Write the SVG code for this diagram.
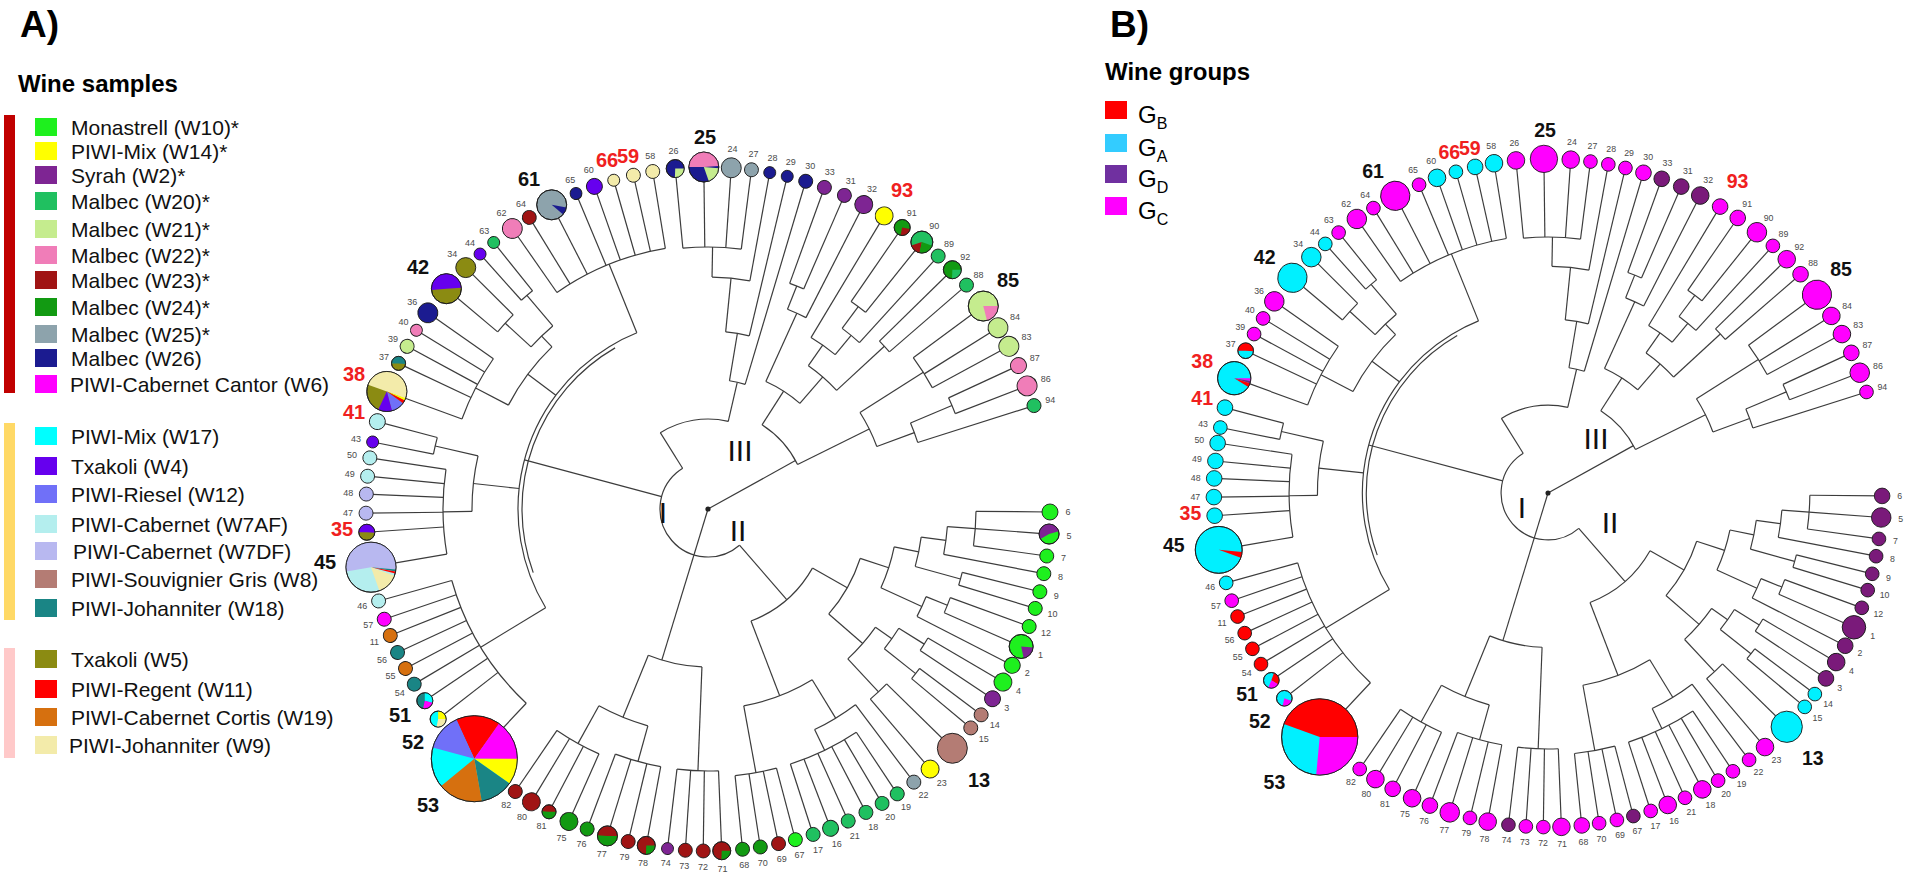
<svg xmlns="http://www.w3.org/2000/svg" width="1908" height="880" viewBox="0 0 1908 880">
<style>
text{font-family:"Liberation Sans",Arial,sans-serif}
.t line,.t circle{fill:none;stroke:#3c3c3c;stroke-width:1.2}
.lf circle{stroke:#1c1c1c;stroke-width:0.9}
.lf .s,.lf .ol{fill:none}
.n{font-size:9px;fill:#4a4a4a;text-anchor:middle;dominant-baseline:central}
.b{font-size:20px;font-weight:bold;text-anchor:middle;dominant-baseline:central;fill:#111}
.rd{fill:#f02020}
.lg{font-size:21px;fill:#111}
.hd{font-weight:bold;fill:#000}
.rn{font-size:30px;fill:#111;text-anchor:middle;dominant-baseline:central}
.w10{fill:#1ef01e}.w14{fill:#ffff00}.w2{fill:#7e2593}.w20{fill:#20c060}.w21{fill:#c5ec8e}.w22{fill:#f07db8}
.w23{fill:#a01414}.w24{fill:#129a12}.w25{fill:#8da3ac}.w26{fill:#1b1b90}.w6{fill:#ff00ff}.w17{fill:#00ffff}
.w4{fill:#6600ee}.w12{fill:#7070f8}.w7a{fill:#b4eeee}.w7d{fill:#b8b8f0}.w8{fill:#b47c74}.w18{fill:#1a8585}
.w5{fill:#8b8b12}.w11{fill:#ff0000}.w19{fill:#d6700f}.w9{fill:#f3ebaa}
.ga{fill:#00f0ff}.gb{fill:#ff0000}.gc{fill:#ff00ff}.gd{fill:#7a1a7a}
</style>
<defs>
<g id="tree" class="t">
<line x1="268" x2="342" transform="rotate(0.5)"/><line x1="268" x2="342" transform="rotate(4.2)"/><line x1="268" x2="342" transform="rotate(7.9)"/><line x1="240" x2="342" transform="rotate(10.9)"/><line x1="262" x2="342" transform="rotate(14)"/><line x1="262" x2="342" transform="rotate(16.9)"/><line x1="258" x2="342" transform="rotate(20.1)"/><line x1="258" x2="342" transform="rotate(23.7)"/><line x1="235" x2="342" transform="rotate(27.2)"/><line x1="255" x2="342" transform="rotate(30.4)"/><line x1="255" x2="342" transform="rotate(33.7)"/><line x1="265" x2="342" transform="rotate(37)"/><line x1="265" x2="342" transform="rotate(39.8)"/><line x1="250" x2="342" transform="rotate(44.4)"/><line x1="250" x2="342" transform="rotate(49.5)"/><line x1="245" x2="342" transform="rotate(53)"/><line x1="268" x2="342" transform="rotate(56.4)"/><line x1="268" x2="342" transform="rotate(59.4)"/><line x1="268" x2="342" transform="rotate(62.5)"/><line x1="268" x2="342" transform="rotate(65.8)"/><line x1="268" x2="342" transform="rotate(69)"/><line x1="268" x2="342" transform="rotate(72.1)"/><line x1="268" x2="342" transform="rotate(75.2)"/><line x1="268" x2="342" transform="rotate(78.1)"/><line x1="268" x2="342" transform="rotate(81.2)"/><line x1="268" x2="342" transform="rotate(84.2)"/><line x1="262" x2="342" transform="rotate(87.7)"/><line x1="262" x2="342" transform="rotate(90.8)"/><line x1="262" x2="342" transform="rotate(93.8)"/><line x1="262" x2="342" transform="rotate(96.8)"/><line x1="262" x2="342" transform="rotate(100.4)"/><line x1="262" x2="342" transform="rotate(103.5)"/><line x1="262" x2="342" transform="rotate(107.1)"/><line x1="262" x2="342" transform="rotate(110.7)"/><line x1="268" x2="342" transform="rotate(114)"/><line x1="268" x2="342" transform="rotate(117.7)"/><line x1="268" x2="342" transform="rotate(121.1)"/><line x1="268" x2="342" transform="rotate(124.3)"/>
<line x1="266" x2="342" transform="rotate(133.1)"/><line x1="266" x2="342" transform="rotate(142.1)"/><line x1="266" x2="342" transform="rotate(145.9)"/><line x1="266" x2="342" transform="rotate(149.2)"/><line x1="266" x2="342" transform="rotate(152.2)"/><line x1="266" x2="342" transform="rotate(155.2)"/><line x1="266" x2="342" transform="rotate(158.3)"/><line x1="266" x2="342" transform="rotate(161.2)"/><line x1="266" x2="342" transform="rotate(164.4)"/><line x1="265" x2="342" transform="rotate(170.2)"/><line x1="265" x2="342" transform="rotate(176.1)"/><line x1="265" x2="342" transform="rotate(179.3)"/><line x1="265" x2="342" transform="rotate(182.5)"/><line x1="265" x2="342" transform="rotate(185.5)"/><line x1="265" x2="342" transform="rotate(188.6)"/><line x1="280" x2="342" transform="rotate(191.3)"/><line x1="280" x2="342" transform="rotate(194.8)"/><line x1="262" x2="342" transform="rotate(200.1)"/><line x1="262" x2="342" transform="rotate(205.2)"/><line x1="262" x2="342" transform="rotate(208.4)"/><line x1="262" x2="342" transform="rotate(211.5)"/><line x1="262" x2="342" transform="rotate(215)"/><line x1="275" x2="342" transform="rotate(220.1)"/><line x1="275" x2="342" transform="rotate(224.9)"/><line x1="280" x2="342" transform="rotate(228.2)"/><line x1="280" x2="342" transform="rotate(231.2)"/><line x1="264" x2="342" transform="rotate(235.1)"/><line x1="264" x2="342" transform="rotate(238.5)"/><line x1="264" x2="342" transform="rotate(242.8)"/><line x1="264" x2="342" transform="rotate(247.3)"/><line x1="264" x2="342" transform="rotate(250.6)"/><line x1="264" x2="342" transform="rotate(254)"/><line x1="264" x2="342" transform="rotate(257.4)"/><line x1="264" x2="342" transform="rotate(260.7)"/>
<line x1="262" x2="342" transform="rotate(264.5)"/><line x1="262" x2="342" transform="rotate(269.3)"/><line x1="262" x2="342" transform="rotate(273.9)"/><line x1="262" x2="342" transform="rotate(277.3)"/><line x1="232" x2="342" transform="rotate(280.4)"/><line x1="178" x2="342" transform="rotate(283.4)"/><line x1="130" x2="342" transform="rotate(286.6)"/><line x1="240" x2="342" transform="rotate(289.9)"/><line x1="240" x2="342" transform="rotate(293.5)"/><line x1="215" x2="342" transform="rotate(297.1)"/><line x1="200" x2="342" transform="rotate(301)"/><line x1="252" x2="342" transform="rotate(304.6)"/><line x1="252" x2="342" transform="rotate(308.7)"/><line x1="225" x2="342" transform="rotate(312.3)"/><line x1="240" x2="342" transform="rotate(315.6)"/><line x1="240" x2="342" transform="rotate(319.1)"/><line x1="255" x2="342" transform="rotate(323.6)"/><line x1="255" x2="342" transform="rotate(328)"/><line x1="255" x2="342" transform="rotate(331.6)"/><line x1="265" x2="342" transform="rotate(335.2)"/><line x1="265" x2="342" transform="rotate(338.9)"/><line x1="220" x2="342" transform="rotate(342.4)"/>
<line x1="232" x2="262" transform="rotate(271)"/><line x1="178" x2="232" transform="rotate(275.7)"/><line x1="130" x2="178" transform="rotate(279.5)"/><line x1="90" x2="130" transform="rotate(283)"/><line x1="215" x2="240" transform="rotate(291.7)"/><line x1="140" x2="215" transform="rotate(294.4)"/><line x1="225" x2="252" transform="rotate(306.6)"/><line x1="200" x2="225" transform="rotate(309.5)"/><line x1="175" x2="200" transform="rotate(305)"/><line x1="175" x2="240" transform="rotate(317.3)"/><line x1="140" x2="175" transform="rotate(311)"/><line x1="100" x2="140" transform="rotate(302.7)"/><line x1="180" x2="255" transform="rotate(327.6)"/><line x1="220" x2="265" transform="rotate(337)"/><line x1="180" x2="220" transform="rotate(339.7)"/><line x1="100" x2="180" transform="rotate(333.6)"/><line x1="0" x2="100" transform="rotate(331)"/>
<line x1="48" x2="90" transform="rotate(238)"/><line x1="48" x2="190" transform="rotate(195)"/><line x1="48" x2="120" transform="rotate(49)"/><line x1="0" x2="158" transform="rotate(107)"/>
<line x1="190" x2="266" transform="rotate(148.7)"/><line x1="236" x2="265" transform="rotate(179.4)"/><line x1="236" x2="280" transform="rotate(193)"/><line x1="190" x2="236" transform="rotate(186.2)"/><line x1="225" x2="262" transform="rotate(207.5)"/><line x1="240" x2="275" transform="rotate(222.5)"/><line x1="240" x2="280" transform="rotate(229.7)"/><line x1="225" x2="240" transform="rotate(226.1)"/><line x1="190" x2="225" transform="rotate(216.8)"/><line x1="190" x2="264" transform="rotate(248)"/>
<line x1="240" x2="268" transform="rotate(4.2)"/><line x1="215" x2="240" transform="rotate(7.5)"/><line x1="215" x2="262" transform="rotate(15.5)"/><line x1="190" x2="215" transform="rotate(11.5)"/><line x1="235" x2="258" transform="rotate(21.9)"/><line x1="190" x2="235" transform="rotate(24.5)"/><line x1="160" x2="190" transform="rotate(18)"/><line x1="225" x2="255" transform="rotate(32)"/><line x1="225" x2="265" transform="rotate(38.4)"/><line x1="205" x2="225" transform="rotate(35.2)"/><line x1="205" x2="250" transform="rotate(47)"/><line x1="160" x2="205" transform="rotate(41)"/><line x1="120" x2="160" transform="rotate(29.5)"/><line x1="245" x2="268" transform="rotate(64.2)"/><line x1="200" x2="245" transform="rotate(58.6)"/><line x1="200" x2="268" transform="rotate(79.7)"/><line x1="120" x2="200" transform="rotate(69)"/><line x1="158" x2="262" transform="rotate(92.2)"/><line x1="225" x2="262" transform="rotate(105.5)"/><line x1="225" x2="268" transform="rotate(119)"/><line x1="158" x2="225" transform="rotate(112.2)"/>
<circle r="262" stroke-dasharray="58.5 2000" transform="rotate(264.5)"/><circle r="232" stroke-dasharray="38.1 2000" transform="rotate(271)"/><circle r="178" stroke-dasharray="23.9 2000" transform="rotate(275.7)"/><circle r="130" stroke-dasharray="16.1 2000" transform="rotate(279.5)"/><circle r="240" stroke-dasharray="15.1 2000" transform="rotate(289.9)"/><circle r="215" stroke-dasharray="20.3 2000" transform="rotate(291.7)"/><circle r="252" stroke-dasharray="18 2000" transform="rotate(304.6)"/><circle r="225" stroke-dasharray="22.4 2000" transform="rotate(306.6)"/><circle r="200" stroke-dasharray="29.7 2000" transform="rotate(301)"/><circle r="240" stroke-dasharray="14.7 2000" transform="rotate(315.6)"/><circle r="175" stroke-dasharray="37.6 2000" transform="rotate(305)"/><circle r="140" stroke-dasharray="40.6 2000" transform="rotate(294.4)"/><circle r="255" stroke-dasharray="35.6 2000" transform="rotate(323.6)"/><circle r="265" stroke-dasharray="17.1 2000" transform="rotate(335.2)"/><circle r="220" stroke-dasharray="20.7 2000" transform="rotate(337)"/><circle r="180" stroke-dasharray="38 2000" transform="rotate(327.6)"/><circle r="100" stroke-dasharray="53.9 2000" transform="rotate(302.7)"/>
<circle r="48" stroke-dasharray="158.3 2000" transform="rotate(49)"/><circle r="90" stroke-dasharray="70.7 2000" transform="rotate(238)"/>
<circle r="266" stroke-dasharray="145.3 2000" transform="rotate(133.1)"/><circle r="265" stroke-dasharray="85.1 2000" transform="rotate(170.2)"/><circle r="280" stroke-dasharray="17.1 2000" transform="rotate(191.3)"/><circle r="236" stroke-dasharray="56 2000" transform="rotate(179.4)"/><circle r="262" stroke-dasharray="68.1 2000" transform="rotate(200.1)"/><circle r="275" stroke-dasharray="23 2000" transform="rotate(220.1)"/><circle r="280" stroke-dasharray="14.7 2000" transform="rotate(228.2)"/><circle r="240" stroke-dasharray="30.2 2000" transform="rotate(222.5)"/><circle r="225" stroke-dasharray="73 2000" transform="rotate(207.5)"/><circle r="264" stroke-dasharray="118 2000" transform="rotate(235.1)"/><circle r="190" stroke-dasharray="329.3 2000" transform="rotate(148.7)"/><circle r="186" stroke-dasharray="259.7 2000" transform="rotate(160)"/>
<circle r="268" stroke-dasharray="34.6 2000" transform="rotate(0.5)"/><circle r="240" stroke-dasharray="28.1 2000" transform="rotate(4.2)"/><circle r="262" stroke-dasharray="13.3 2000" transform="rotate(14)"/><circle r="215" stroke-dasharray="30 2000" transform="rotate(7.5)"/><circle r="258" stroke-dasharray="16.2 2000" transform="rotate(20.1)"/><circle r="235" stroke-dasharray="21.7 2000" transform="rotate(21.9)"/><circle r="190" stroke-dasharray="43.1 2000" transform="rotate(11.5)"/><circle r="255" stroke-dasharray="14.7 2000" transform="rotate(30.4)"/><circle r="265" stroke-dasharray="13 2000" transform="rotate(37)"/><circle r="225" stroke-dasharray="25.1 2000" transform="rotate(32)"/><circle r="250" stroke-dasharray="22.3 2000" transform="rotate(44.4)"/><circle r="205" stroke-dasharray="42.2 2000" transform="rotate(35.2)"/><circle r="160" stroke-dasharray="64.2 2000" transform="rotate(18)"/><circle r="268" stroke-dasharray="73.4 2000" transform="rotate(56.4)"/><circle r="245" stroke-dasharray="47.9 2000" transform="rotate(53)"/><circle r="268" stroke-dasharray="42.1 2000" transform="rotate(75.2)"/><circle r="200" stroke-dasharray="73.7 2000" transform="rotate(58.6)"/><circle r="120" stroke-dasharray="82.7 2000" transform="rotate(29.5)"/><circle r="262" stroke-dasharray="41.6 2000" transform="rotate(87.7)"/><circle r="262" stroke-dasharray="47.1 2000" transform="rotate(100.4)"/><circle r="268" stroke-dasharray="48.2 2000" transform="rotate(114)"/><circle r="225" stroke-dasharray="53 2000" transform="rotate(105.5)"/><circle r="158" stroke-dasharray="55.2 2000" transform="rotate(92.2)"/>
<circle r="2.6" style="fill:#222;stroke:none"/>
</g>
</defs>
<rect width="1908" height="880" fill="#fff"/>

<g id="legend-a">
<text x="20" y="37" class="hd" style="font-size:37px">A)</text>
<text x="18" y="92" class="hd" style="font-size:24px">Wine samples</text>
<rect x="4" y="115" width="11" height="278" fill="#c00000"/>
<rect x="4" y="423" width="11" height="197" fill="#ffd966"/>
<rect x="4" y="648" width="11" height="110" fill="#ffc9c9"/>
<rect x="35" y="118" width="22" height="18" class="w10"/><text x="71" y="134.5" class="lg">Monastrell (W10)*</text>
<rect x="35" y="142" width="22" height="18" class="w14"/><text x="71" y="158.5" class="lg">PIWI-Mix (W14)*</text>
<rect x="35" y="166" width="22" height="18" class="w2"/><text x="71" y="182.5" class="lg">Syrah (W2)*</text>
<rect x="35" y="192" width="22" height="18" class="w20"/><text x="71" y="208.5" class="lg">Malbec (W20)*</text>
<rect x="35" y="220" width="22" height="18" class="w21"/><text x="71" y="236.5" class="lg">Malbec (W21)*</text>
<rect x="35" y="246" width="22" height="18" class="w22"/><text x="71" y="262.5" class="lg">Malbec (W22)*</text>
<rect x="35" y="271" width="22" height="18" class="w23"/><text x="71" y="287.5" class="lg">Malbec (W23)*</text>
<rect x="35" y="298" width="22" height="18" class="w24"/><text x="71" y="314.5" class="lg">Malbec (W24)*</text>
<rect x="35" y="325" width="22" height="18" class="w25"/><text x="71" y="341.5" class="lg">Malbec (W25)*</text>
<rect x="35" y="349" width="22" height="18" class="w26"/><text x="71" y="365.5" class="lg">Malbec (W26)</text>
<rect x="35" y="375" width="22" height="18" class="w6"/><text x="70" y="391.5" class="lg">PIWI-Cabernet Cantor (W6)</text>
<rect x="35" y="427" width="22" height="18" class="w17"/><text x="71" y="443.5" class="lg">PIWI-Mix (W17)</text>
<rect x="35" y="457" width="22" height="18" class="w4"/><text x="71" y="473.5" class="lg">Txakoli (W4)</text>
<rect x="35" y="485" width="22" height="18" class="w12"/><text x="71" y="501.5" class="lg">PIWI-Riesel (W12)</text>
<rect x="35" y="515" width="22" height="18" class="w7a"/><text x="71" y="531.5" class="lg">PIWI-Cabernet (W7AF)</text>
<rect x="35" y="542" width="22" height="18" class="w7d"/><text x="73" y="558.5" class="lg">PIWI-Cabernet (W7DF)</text>
<rect x="35" y="570" width="22" height="18" class="w8"/><text x="71" y="586.5" class="lg">PIWI-Souvignier Gris (W8)</text>
<rect x="35" y="599" width="22" height="18" class="w18"/><text x="71" y="615.5" class="lg">PIWI-Johanniter (W18)</text>
<rect x="35" y="650" width="22" height="18" class="w5"/><text x="71" y="666.5" class="lg">Txakoli (W5)</text>
<rect x="35" y="680" width="22" height="18" class="w11"/><text x="71" y="696.5" class="lg">PIWI-Regent (W11)</text>
<rect x="35" y="708" width="22" height="18" class="w19"/><text x="71" y="724.5" class="lg">PIWI-Cabernet Cortis (W19)</text>
<rect x="35" y="736" width="22" height="18" class="w9"/><text x="69" y="752.5" class="lg">PIWI-Johanniter (W9)</text>
</g>

<g id="legend-b">
<text x="1110" y="37" class="hd" style="font-size:37px">B)</text>
<text x="1105" y="80" class="hd" style="font-size:24px">Wine groups</text>
<rect x="1105" y="101" width="22" height="18" fill="#ff0000"/><text x="1138" y="123" style="font-size:24px">G<tspan dy="6" style="font-size:16px">B</tspan></text>
<rect x="1105" y="134" width="22" height="18" fill="#33ccff"/><text x="1138" y="156" style="font-size:24px">G<tspan dy="6" style="font-size:16px">A</tspan></text>
<rect x="1105" y="165" width="22" height="18" fill="#7030a0"/><text x="1138" y="187" style="font-size:24px">G<tspan dy="6" style="font-size:16px">D</tspan></text>
<rect x="1105" y="197" width="22" height="18" fill="#ff00ff"/><text x="1138" y="219" style="font-size:24px">G<tspan dy="6" style="font-size:16px">C</tspan></text>
</g>

<g id="connectors">
<use href="#tree" transform="translate(708,509)"/>
<use href="#tree" transform="translate(1548,493) scale(0.977)"/>
</g>

<g id="clades">
<text class="rn" x="663" y="512">I</text><text class="rn" x="738" y="530">II</text><text class="rn" x="740" y="450">III</text>
<text class="rn" x="1522" y="507">I</text><text class="rn" x="1610" y="522">II</text><text class="rn" x="1596" y="438">III</text>
</g>

<g id="leaves-a" class="lf" transform="translate(708,509)">
<g id="a6"><circle class="w10" r="8" transform="rotate(0.5) translate(342)"/><text class="n" transform="rotate(0.5) translate(360) rotate(-0.5)">6</text></g>
<g id="a5"><g transform="rotate(4.2) translate(342) rotate(-4.2)"><circle class="w10" r="10"/><circle class="s" r="5" style="stroke:#7e2593;stroke-width:10;stroke-dasharray:16.6 99" transform="rotate(150)"/><circle class="ol" r="10"/></g><text class="n" transform="rotate(4.2) translate(362) rotate(-4.2)">5</text></g>
<g id="a7"><circle class="w10" r="7" transform="rotate(7.9) translate(342)"/><text class="n" transform="rotate(7.9) translate(359) rotate(-7.9)">7</text></g>
<g id="a8"><circle class="w10" r="7" transform="rotate(10.9) translate(342)"/><text class="n" transform="rotate(10.9) translate(359) rotate(-10.9)">8</text></g>
<g id="a9"><circle class="w10" r="7" transform="rotate(14) translate(342)"/><text class="n" transform="rotate(14) translate(359) rotate(-14)">9</text></g>
<g id="a10"><circle class="w10" r="7" transform="rotate(16.9) translate(342)"/><text class="n" transform="rotate(16.9) translate(360) rotate(-16.9)">10</text></g>
<g id="a12"><circle class="w10" r="7" transform="rotate(20.1) translate(342)"/><text class="n" transform="rotate(20.1) translate(360) rotate(-20.1)">12</text></g>
<g id="a1"><g transform="rotate(23.7) translate(342) rotate(-23.7)"><circle class="w10" r="12"/><circle class="s" r="6" style="stroke:#7e2593;stroke-width:12;stroke-dasharray:7.33 99" transform="rotate(5)"/><circle class="ol" r="12"/></g><text class="n" transform="rotate(23.7) translate(363) rotate(-23.7)">1</text></g>
<g id="a2"><circle class="w10" r="8" transform="rotate(27.2) translate(342)"/><text class="n" transform="rotate(27.2) translate(359) rotate(-27.2)">2</text></g>
<g id="a4"><circle class="w10" r="9" transform="rotate(30.4) translate(342)"/><text class="n" transform="rotate(30.4) translate(360) rotate(-30.4)">4</text></g>
<g id="a3"><circle class="w2" r="8" transform="rotate(33.7) translate(342)"/><text class="n" transform="rotate(33.7) translate(359) rotate(-33.7)">3</text></g>
<g id="a14"><circle class="w8" r="7" transform="rotate(37) translate(342)"/><text class="n" transform="rotate(37) translate(359) rotate(-37)">14</text></g>
<g id="a15"><circle class="w8" r="7" transform="rotate(39.8) translate(342)"/><text class="n" transform="rotate(39.8) translate(359) rotate(-39.8)">15</text></g>
<g id="a13"><circle class="w8" r="15" transform="rotate(44.4) translate(342)"/><text class="b" x="271" y="271">13</text></g>
<g id="a23"><circle class="w14" r="9" transform="rotate(49.5) translate(342)"/><text class="n" transform="rotate(49.5) translate(360) rotate(-49.5)">23</text></g>
<g id="a22"><circle class="w25" r="7" transform="rotate(53) translate(342)"/><text class="n" transform="rotate(53) translate(358) rotate(-53)">22</text></g>
<g id="a19"><circle class="w20" r="7" transform="rotate(56.4) translate(342)"/><text class="n" transform="rotate(56.4) translate(358) rotate(-56.4)">19</text></g>
<g id="a20"><circle class="w20" r="7" transform="rotate(59.4) translate(342)"/><text class="n" transform="rotate(59.4) translate(358) rotate(-59.4)">20</text></g>
<g id="a18"><circle class="w20" r="7" transform="rotate(62.5) translate(342)"/><text class="n" transform="rotate(62.5) translate(358) rotate(-62.5)">18</text></g>
<g id="a21"><circle class="w20" r="7" transform="rotate(65.8) translate(342)"/><text class="n" transform="rotate(65.8) translate(358) rotate(-65.8)">21</text></g>
<g id="a16"><circle class="w20" r="8" transform="rotate(69) translate(342)"/><text class="n" transform="rotate(69) translate(359) rotate(-69)">16</text></g>
<g id="a17"><circle class="w20" r="7" transform="rotate(72.1) translate(342)"/><text class="n" transform="rotate(72.1) translate(358) rotate(-72.1)">17</text></g>
<g id="a67"><circle class="w10" r="7" transform="rotate(75.2) translate(342)"/><text class="n" transform="rotate(75.2) translate(358) rotate(-75.2)">67</text></g>
<g id="a69"><circle class="w23" r="7" transform="rotate(78.1) translate(342)"/><text class="n" transform="rotate(78.1) translate(358) rotate(-78.1)">69</text></g>
<g id="a70"><circle class="w24" r="7" transform="rotate(81.2) translate(342)"/><text class="n" transform="rotate(81.2) translate(358) rotate(-81.2)">70</text></g>
<g id="a68"><circle class="w24" r="7" transform="rotate(84.2) translate(342)"/><text class="n" transform="rotate(84.2) translate(358) rotate(-84.2)">68</text></g>
<g id="a71"><g transform="rotate(87.7) translate(342) rotate(-87.7)"><circle class="w23" r="9"/><circle class="s" r="4.5" style="stroke:#129a12;stroke-width:9;stroke-dasharray:7.07 99"/><circle class="ol" r="9"/></g><text class="n" transform="rotate(87.7) translate(360) rotate(-87.7)">71</text></g>
<g id="a72"><circle class="w23" r="7" transform="rotate(90.8) translate(342)"/><text class="n" transform="rotate(90.8) translate(358) rotate(-90.8)">72</text></g>
<g id="a73"><circle class="w23" r="7" transform="rotate(93.8) translate(342)"/><text class="n" transform="rotate(93.8) translate(358) rotate(-93.8)">73</text></g>
<g id="a74"><circle class="w2" r="6" transform="rotate(96.8) translate(342)"/><text class="n" transform="rotate(96.8) translate(357) rotate(-96.8)">74</text></g>
<g id="a78"><g transform="rotate(100.4) translate(342) rotate(-100.4)"><circle class="w23" r="9"/><circle class="s" r="4.5" style="stroke:#129a12;stroke-width:9;stroke-dasharray:7.07 99"/><circle class="ol" r="9"/></g><text class="n" transform="rotate(100.4) translate(360) rotate(-100.4)">78</text></g>
<g id="a79"><circle class="w23" r="7" transform="rotate(103.5) translate(342)"/><text class="n" transform="rotate(103.5) translate(358) rotate(-103.5)">79</text></g>
<g id="a77"><g transform="rotate(107.1) translate(342) rotate(-107.1)"><circle class="w23" r="10"/><circle class="s" r="5" style="stroke:#129a12;stroke-width:10;stroke-dasharray:15.7 99"/><circle class="ol" r="10"/></g><text class="n" transform="rotate(107.1) translate(361) rotate(-107.1)">77</text></g>
<g id="a76"><circle class="w24" r="7" transform="rotate(110.7) translate(342)"/><text class="n" transform="rotate(110.7) translate(358) rotate(-110.7)">76</text></g>
<g id="a75"><circle class="w24" r="9" transform="rotate(114) translate(342)"/><text class="n" transform="rotate(114) translate(360) rotate(-114)">75</text></g>
<g id="a81"><g transform="rotate(117.7) translate(342) rotate(-117.7)"><circle class="w23" r="7"/><circle class="s" r="3.5" style="stroke:#129a12;stroke-width:7;stroke-dasharray:11 99"/><circle class="ol" r="7"/></g><text class="n" transform="rotate(117.7) translate(358) rotate(-117.7)">81</text></g>
<g id="a80"><circle class="w23" r="9" transform="rotate(121.1) translate(342)"/><text class="n" transform="rotate(121.1) translate(360) rotate(-121.1)">80</text></g>
<g id="a82"><circle class="w23" r="7" transform="rotate(124.3) translate(342)"/><text class="n" transform="rotate(124.3) translate(358) rotate(-124.3)">82</text></g>
<g id="a53"><g transform="rotate(133.1) translate(342) rotate(-133.1)"><circle class="w17" r="43"/><circle class="s" r="21.5" style="stroke:#ff0000;stroke-width:43;stroke-dasharray:22.5 999" transform="rotate(245)"/><circle class="s" r="21.5" style="stroke:#ff00ff;stroke-width:43;stroke-dasharray:20.6 999" transform="rotate(305)"/><circle class="s" r="21.5" style="stroke:#ffff00;stroke-width:43;stroke-dasharray:13.1 999"/><circle class="s" r="21.5" style="stroke:#1a8585;stroke-width:43;stroke-dasharray:16.9 999" transform="rotate(35)"/><circle class="s" r="21.5" style="stroke:#d6700f;stroke-width:43;stroke-dasharray:22.5 999" transform="rotate(80)"/><circle class="s" r="21.5" style="stroke:#7070f8;stroke-width:43;stroke-dasharray:18.8 999" transform="rotate(195)"/><circle class="ol" r="43"/></g><text class="b" x="-280" y="296">53</text></g>
<g id="a52"><g transform="rotate(142.1) translate(342) rotate(-142.1)"><circle class="w17" r="8"/><circle class="s" r="4" style="stroke:#ffff00;stroke-width:8;stroke-dasharray:6.28 99" transform="rotate(270)"/><circle class="s" r="4" style="stroke:#f3ebaa;stroke-width:8;stroke-dasharray:6.98 99"/><circle class="ol" r="8"/></g><text class="b" x="-295" y="233">52</text></g>
<g id="a51"><g transform="rotate(145.9) translate(342) rotate(-145.9)"><circle class="w18" r="8"/><circle class="s" r="4" style="stroke:#00ffff;stroke-width:8;stroke-dasharray:7.33 99" transform="rotate(270)"/><circle class="s" r="4" style="stroke:#ff00ff;stroke-width:8;stroke-dasharray:5.93 99" transform="rotate(15)"/><circle class="ol" r="8"/></g><text class="b" x="-308" y="206">51</text></g>
<g id="a54"><circle class="w18" r="7" transform="rotate(149.2) translate(342)"/><text class="n" transform="rotate(149.2) translate(359) rotate(-149.2)">54</text></g>
<g id="a55"><circle class="w19" r="7" transform="rotate(152.2) translate(342)"/><text class="n" transform="rotate(152.2) translate(359) rotate(-152.2)">55</text></g>
<g id="a56"><circle class="w18" r="7" transform="rotate(155.2) translate(342)"/><text class="n" transform="rotate(155.2) translate(359) rotate(-155.2)">56</text></g>
<g id="a11"><circle class="w19" r="7" transform="rotate(158.3) translate(342)"/><text class="n" transform="rotate(158.3) translate(359) rotate(-158.3)">11</text></g>
<g id="a57"><circle class="w6" r="7" transform="rotate(161.2) translate(342)"/><text class="n" transform="rotate(161.2) translate(359) rotate(-161.2)">57</text></g>
<g id="a46"><circle class="w7a" r="7" transform="rotate(164.4) translate(342)"/><text class="n" transform="rotate(164.4) translate(359) rotate(-164.4)">46</text></g>
<g id="a45"><g transform="rotate(170.2) translate(342) rotate(-170.2)"><circle class="w7a" r="25"/><circle class="s" r="12.5" style="stroke:#b8b8f0;stroke-width:25;stroke-dasharray:42.54 999" transform="rotate(170)"/><circle class="s" r="12.5" style="stroke:#1a8585;stroke-width:25;stroke-dasharray:1.09 999" transform="rotate(5)"/><circle class="s" r="12.5" style="stroke:#ff0000;stroke-width:25;stroke-dasharray:1.09 999" transform="rotate(10)"/><circle class="s" r="12.5" style="stroke:#f3ebaa;stroke-width:25;stroke-dasharray:10.91 999" transform="rotate(20)"/><circle class="ol" r="25"/></g><text class="b" x="-383" y="53">45</text></g>
<g id="a35"><g transform="rotate(176.1) translate(342) rotate(-176.1)"><circle class="w5" r="8"/><circle class="s" r="4" style="stroke:#6600ee;stroke-width:8;stroke-dasharray:12.57 99" transform="rotate(180)"/><circle class="ol" r="8"/></g><text class="b rd" x="-366" y="20">35</text></g>
<g id="a47"><circle class="w7d" r="7" transform="rotate(179.3) translate(342)"/><text class="n" transform="rotate(179.3) translate(360) rotate(-179.3)">47</text></g>
<g id="a48"><circle class="w7d" r="7" transform="rotate(182.5) translate(342)"/><text class="n" transform="rotate(182.5) translate(360) rotate(-182.5)">48</text></g>
<g id="a49"><circle class="w7a" r="7" transform="rotate(185.5) translate(342)"/><text class="n" transform="rotate(185.5) translate(360) rotate(-185.5)">49</text></g>
<g id="a50"><circle class="w7a" r="7" transform="rotate(188.6) translate(342)"/><text class="n" transform="rotate(188.6) translate(360) rotate(-188.6)">50</text></g>
<g id="a43"><circle class="w4" r="6" transform="rotate(191.3) translate(342)"/><text class="n" transform="rotate(191.3) translate(359) rotate(-191.3)">43</text></g>
<g id="a41"><circle class="w7a" r="8" transform="rotate(194.8) translate(342)"/><text class="b rd" x="-354" y="-97">41</text></g>
<g id="a38"><g transform="rotate(200.1) translate(342) rotate(-200.1)"><circle class="w5" r="20"/><circle class="s" r="10" style="stroke:#f3ebaa;stroke-width:20;stroke-dasharray:31.42 999" transform="rotate(200)"/><circle class="s" r="10" style="stroke:#ffff00;stroke-width:20;stroke-dasharray:1.22 999" transform="rotate(20)"/><circle class="s" r="10" style="stroke:#ff0000;stroke-width:20;stroke-dasharray:1.57 999" transform="rotate(27)"/><circle class="s" r="10" style="stroke:#7070f8;stroke-width:20;stroke-dasharray:6.81 999" transform="rotate(36)"/><circle class="s" r="10" style="stroke:#6600ee;stroke-width:20;stroke-dasharray:6.98 999" transform="rotate(75)"/><circle class="ol" r="20"/></g><text class="b rd" x="-354" y="-135">38</text></g>
<g id="a37"><g transform="rotate(205.2) translate(342) rotate(-205.2)"><circle class="w5" r="7"/><circle class="s" r="3.5" style="stroke:#1a8585;stroke-width:7;stroke-dasharray:11 99" transform="rotate(180)"/><circle class="ol" r="7"/></g><text class="n" transform="rotate(205.2) translate(358) rotate(-205.2)">37</text></g>
<g id="a39"><circle class="w21" r="7" transform="rotate(208.4) translate(342)"/><text class="n" transform="rotate(208.4) translate(358) rotate(-208.4)">39</text></g>
<g id="a40"><circle class="w22" r="6" transform="rotate(211.5) translate(342)"/><text class="n" transform="rotate(211.5) translate(357) rotate(-211.5)">40</text></g>
<g id="a36"><circle class="w26" r="10" transform="rotate(215) translate(342)"/><text class="n" transform="rotate(215) translate(361) rotate(-215)">36</text></g>
<g id="a42"><g transform="rotate(220.1) translate(342) rotate(-220.1)"><circle class="w5" r="15"/><circle class="s" r="7.5" style="stroke:#6600ee;stroke-width:15;stroke-dasharray:23.56 999" transform="rotate(175)"/><circle class="ol" r="15"/></g><text class="b" x="-290" y="-242">42</text></g>
<g id="a34"><circle class="w5" r="10" transform="rotate(224.9) translate(342)"/><text class="n" transform="rotate(224.9) translate(361) rotate(-224.9)">34</text></g>
<g id="a44"><circle class="w4" r="6" transform="rotate(228.2) translate(342)"/><text class="n" transform="rotate(228.2) translate(357) rotate(-228.2)">44</text></g>
<g id="a63"><circle class="w20" r="6" transform="rotate(231.2) translate(342)"/><text class="n" transform="rotate(231.2) translate(357) rotate(-231.2)">63</text></g>
<g id="a62"><circle class="w22" r="10" transform="rotate(235.1) translate(342)"/><text class="n" transform="rotate(235.1) translate(361) rotate(-235.1)">62</text></g>
<g id="a64"><circle class="w23" r="7" transform="rotate(238.5) translate(342)"/><text class="n" transform="rotate(238.5) translate(358) rotate(-238.5)">64</text></g>
<g id="a61"><g transform="rotate(242.8) translate(342) rotate(-242.8)"><circle class="w25" r="15"/><circle class="s" r="7.5" style="stroke:#1b1b90;stroke-width:15;stroke-dasharray:3.93 999" transform="rotate(10)"/><circle class="ol" r="15"/></g><text class="b" x="-179" y="-330">61</text></g>
<g id="a65"><circle class="w26" r="6" transform="rotate(247.3) translate(342)"/><text class="n" transform="rotate(247.3) translate(357) rotate(-247.3)">65</text></g>
<g id="a60"><circle class="w4" r="8" transform="rotate(250.6) translate(342)"/><text class="n" transform="rotate(250.6) translate(359) rotate(-250.6)">60</text></g>
<g id="a66"><circle class="w9" r="6" transform="rotate(254) translate(342)"/><text class="b rd" x="-101" y="-349">66</text></g>
<g id="a59"><circle class="w9" r="7" transform="rotate(257.4) translate(342)"/><text class="b rd" x="-80" y="-353">59</text></g>
<g id="a58"><circle class="w9" r="7" transform="rotate(260.7) translate(342)"/><text class="n" transform="rotate(260.7) translate(358) rotate(-260.7)">58</text></g>
<g id="a26"><g transform="rotate(264.5) translate(342) rotate(-264.5)"><circle class="w26" r="9"/><circle class="s" r="4.5" style="stroke:#c5ec8e;stroke-width:9;stroke-dasharray:7.07 99"/><circle class="ol" r="9"/></g><text class="n" transform="rotate(264.5) translate(360) rotate(-264.5)">26</text></g>
<g id="a25"><g transform="rotate(269.3) translate(342) rotate(-269.3)"><circle class="w26" r="15"/><circle class="s" r="7.5" style="stroke:#f07db8;stroke-width:15;stroke-dasharray:22.9 999" transform="rotate(180)"/><circle class="s" r="7.5" style="stroke:#c5ec8e;stroke-width:15;stroke-dasharray:8.51 999" transform="rotate(5)"/><circle class="ol" r="15"/></g><text class="b" x="-3" y="-372">25</text></g>
<g id="a24"><circle class="w25" r="10" transform="rotate(273.9) translate(342)"/><text class="n" transform="rotate(273.9) translate(361) rotate(-273.9)">24</text></g>
<g id="a27"><circle class="w25" r="7" transform="rotate(277.3) translate(342)"/><text class="n" transform="rotate(277.3) translate(358) rotate(-277.3)">27</text></g>
<g id="a28"><circle class="w26" r="6" transform="rotate(280.4) translate(342)"/><text class="n" transform="rotate(280.4) translate(357) rotate(-280.4)">28</text></g>
<g id="a29"><circle class="w26" r="6" transform="rotate(283.4) translate(342)"/><text class="n" transform="rotate(283.4) translate(357) rotate(-283.4)">29</text></g>
<g id="a30"><circle class="w26" r="7" transform="rotate(286.6) translate(342)"/><text class="n" transform="rotate(286.6) translate(358) rotate(-286.6)">30</text></g>
<g id="a33"><circle class="w2" r="7" transform="rotate(289.9) translate(342)"/><text class="n" transform="rotate(289.9) translate(358) rotate(-289.9)">33</text></g>
<g id="a31"><circle class="w2" r="7" transform="rotate(293.5) translate(342)"/><text class="n" transform="rotate(293.5) translate(358) rotate(-293.5)">31</text></g>
<g id="a32"><circle class="w2" r="9" transform="rotate(297.1) translate(342)"/><text class="n" transform="rotate(297.1) translate(360) rotate(-297.1)">32</text></g>
<g id="a93"><circle class="w14" r="9" transform="rotate(301) translate(342)"/><text class="b rd" x="194" y="-319">93</text></g>
<g id="a91"><g transform="rotate(304.6) translate(342) rotate(-304.6)"><circle class="w24" r="8"/><circle class="s" r="4" style="stroke:#a01414;stroke-width:8;stroke-dasharray:6.28 99" transform="rotate(10)"/><circle class="ol" r="8"/></g><text class="n" transform="rotate(304.6) translate(359) rotate(-304.6)">91</text></g>
<g id="a90"><g transform="rotate(308.7) translate(342) rotate(-308.7)"><circle class="w20" r="11"/><circle class="s" r="5.5" style="stroke:#a01414;stroke-width:11;stroke-dasharray:5.76 99" transform="rotate(100)"/><circle class="s" r="5.5" style="stroke:#129a12;stroke-width:11;stroke-dasharray:7.68 99" transform="rotate(20)"/><circle class="ol" r="11"/></g><text class="n" transform="rotate(308.7) translate(362) rotate(-308.7)">90</text></g>
<g id="a89"><circle class="w20" r="7" transform="rotate(312.3) translate(342)"/><text class="n" transform="rotate(312.3) translate(358) rotate(-312.3)">89</text></g>
<g id="a92"><g transform="rotate(315.6) translate(342) rotate(-315.6)"><circle class="w24" r="9"/><circle class="s" r="4.5" style="stroke:#20c060;stroke-width:9;stroke-dasharray:7.07 99"/><circle class="ol" r="9"/></g><text class="n" transform="rotate(315.6) translate(360) rotate(-315.6)">92</text></g>
<g id="a88"><circle class="w20" r="7" transform="rotate(319.1) translate(342)"/><text class="n" transform="rotate(319.1) translate(358) rotate(-319.1)">88</text></g>
<g id="a85"><g transform="rotate(323.6) translate(342) rotate(-323.6)"><circle class="w21" r="15"/><circle class="s" r="7.5" style="stroke:#f07db8;stroke-width:15;stroke-dasharray:9.82 999"/><circle class="ol" r="15"/></g><text class="b" x="300" y="-229">85</text></g>
<g id="a84"><circle class="w21" r="10" transform="rotate(328) translate(342)"/><text class="n" transform="rotate(328) translate(362) rotate(-328)">84</text></g>
<g id="a83"><circle class="w21" r="10" transform="rotate(331.6) translate(342)"/><text class="n" transform="rotate(331.6) translate(362) rotate(-331.6)">83</text></g>
<g id="a87"><circle class="w22" r="8" transform="rotate(335.2) translate(342)"/><text class="n" transform="rotate(335.2) translate(360) rotate(-335.2)">87</text></g>
<g id="a86"><circle class="w22" r="10" transform="rotate(338.9) translate(342)"/><text class="n" transform="rotate(338.9) translate(362) rotate(-338.9)">86</text></g>
<g id="a94"><circle class="w20" r="7" transform="rotate(342.4) translate(342)"/><text class="n" transform="rotate(342.4) translate(359) rotate(-342.4)">94</text></g>
</g>

<g id="leaves-b" class="lf" transform="translate(1548,493) scale(0.977)">
<g id="b6"><circle class="gd" r="8" transform="rotate(0.5) translate(342)"/><text class="n" transform="rotate(0.5) translate(360) rotate(-0.5)">6</text></g>
<g id="b5"><circle class="gd" r="10" transform="rotate(4.2) translate(342)"/><text class="n" transform="rotate(4.2) translate(362) rotate(-4.2)">5</text></g>
<g id="b7"><circle class="gd" r="7" transform="rotate(7.9) translate(342)"/><text class="n" transform="rotate(7.9) translate(359) rotate(-7.9)">7</text></g>
<g id="b8"><circle class="gd" r="7" transform="rotate(10.9) translate(342)"/><text class="n" transform="rotate(10.9) translate(359) rotate(-10.9)">8</text></g>
<g id="b9"><circle class="gd" r="7" transform="rotate(14) translate(342)"/><text class="n" transform="rotate(14) translate(359) rotate(-14)">9</text></g>
<g id="b10"><circle class="gd" r="7" transform="rotate(16.9) translate(342)"/><text class="n" transform="rotate(16.9) translate(360) rotate(-16.9)">10</text></g>
<g id="b12"><circle class="gd" r="7" transform="rotate(20.1) translate(342)"/><text class="n" transform="rotate(20.1) translate(360) rotate(-20.1)">12</text></g>
<g id="b1"><circle class="gd" r="12" transform="rotate(23.7) translate(342)"/><text class="n" transform="rotate(23.7) translate(363) rotate(-23.7)">1</text></g>
<g id="b2"><circle class="gd" r="8" transform="rotate(27.2) translate(342)"/><text class="n" transform="rotate(27.2) translate(359) rotate(-27.2)">2</text></g>
<g id="b4"><circle class="gd" r="9" transform="rotate(30.4) translate(342)"/><text class="n" transform="rotate(30.4) translate(360) rotate(-30.4)">4</text></g>
<g id="b3"><circle class="gd" r="8" transform="rotate(33.7) translate(342)"/><text class="n" transform="rotate(33.7) translate(359) rotate(-33.7)">3</text></g>
<g id="b14"><circle class="ga" r="7" transform="rotate(37) translate(342)"/><text class="n" transform="rotate(37) translate(359) rotate(-37)">14</text></g>
<g id="b15"><circle class="ga" r="7" transform="rotate(39.8) translate(342)"/><text class="n" transform="rotate(39.8) translate(359) rotate(-39.8)">15</text></g>
<g id="b13"><circle class="ga" r="16" transform="rotate(44.4) translate(342)"/><text class="b" x="271" y="271">13</text></g>
<g id="b23"><circle class="gc" r="9" transform="rotate(49.5) translate(342)"/><text class="n" transform="rotate(49.5) translate(360) rotate(-49.5)">23</text></g>
<g id="b22"><circle class="gc" r="7" transform="rotate(53) translate(342)"/><text class="n" transform="rotate(53) translate(358) rotate(-53)">22</text></g>
<g id="b19"><circle class="gc" r="7" transform="rotate(56.4) translate(342)"/><text class="n" transform="rotate(56.4) translate(358) rotate(-56.4)">19</text></g>
<g id="b20"><circle class="gc" r="7" transform="rotate(59.4) translate(342)"/><text class="n" transform="rotate(59.4) translate(358) rotate(-59.4)">20</text></g>
<g id="b18"><circle class="gc" r="9" transform="rotate(62.5) translate(342)"/><text class="n" transform="rotate(62.5) translate(360) rotate(-62.5)">18</text></g>
<g id="b21"><circle class="gc" r="7" transform="rotate(65.8) translate(342)"/><text class="n" transform="rotate(65.8) translate(358) rotate(-65.8)">21</text></g>
<g id="b16"><circle class="gc" r="9" transform="rotate(69) translate(342)"/><text class="n" transform="rotate(69) translate(360) rotate(-69)">16</text></g>
<g id="b17"><circle class="gc" r="7" transform="rotate(72.1) translate(342)"/><text class="n" transform="rotate(72.1) translate(358) rotate(-72.1)">17</text></g>
<g id="b67"><circle class="gd" r="7" transform="rotate(75.2) translate(342)"/><text class="n" transform="rotate(75.2) translate(358) rotate(-75.2)">67</text></g>
<g id="b69"><circle class="gc" r="7" transform="rotate(78.1) translate(342)"/><text class="n" transform="rotate(78.1) translate(358) rotate(-78.1)">69</text></g>
<g id="b70"><circle class="gc" r="7" transform="rotate(81.2) translate(342)"/><text class="n" transform="rotate(81.2) translate(358) rotate(-81.2)">70</text></g>
<g id="b68"><circle class="gc" r="8" transform="rotate(84.2) translate(342)"/><text class="n" transform="rotate(84.2) translate(359) rotate(-84.2)">68</text></g>
<g id="b71"><circle class="gc" r="9" transform="rotate(87.7) translate(342)"/><text class="n" transform="rotate(87.7) translate(360) rotate(-87.7)">71</text></g>
<g id="b72"><circle class="gc" r="7" transform="rotate(90.8) translate(342)"/><text class="n" transform="rotate(90.8) translate(358) rotate(-90.8)">72</text></g>
<g id="b73"><circle class="gc" r="7" transform="rotate(93.8) translate(342)"/><text class="n" transform="rotate(93.8) translate(358) rotate(-93.8)">73</text></g>
<g id="b74"><circle class="gd" r="7" transform="rotate(96.8) translate(342)"/><text class="n" transform="rotate(96.8) translate(358) rotate(-96.8)">74</text></g>
<g id="b78"><circle class="gc" r="9" transform="rotate(100.4) translate(342)"/><text class="n" transform="rotate(100.4) translate(360) rotate(-100.4)">78</text></g>
<g id="b79"><circle class="gc" r="7" transform="rotate(103.5) translate(342)"/><text class="n" transform="rotate(103.5) translate(358) rotate(-103.5)">79</text></g>
<g id="b77"><circle class="gc" r="10" transform="rotate(107.1) translate(342)"/><text class="n" transform="rotate(107.1) translate(361) rotate(-107.1)">77</text></g>
<g id="b76"><circle class="gc" r="8" transform="rotate(110.7) translate(342)"/><text class="n" transform="rotate(110.7) translate(359) rotate(-110.7)">76</text></g>
<g id="b75"><circle class="gc" r="9" transform="rotate(114) translate(342)"/><text class="n" transform="rotate(114) translate(360) rotate(-114)">75</text></g>
<g id="b81"><circle class="gc" r="8" transform="rotate(117.7) translate(342)"/><text class="n" transform="rotate(117.7) translate(359) rotate(-117.7)">81</text></g>
<g id="b80"><circle class="gc" r="9" transform="rotate(121.1) translate(342)"/><text class="n" transform="rotate(121.1) translate(360) rotate(-121.1)">80</text></g>
<g id="b82"><circle class="gc" r="7" transform="rotate(124.3) translate(342)"/><text class="n" transform="rotate(124.3) translate(358) rotate(-124.3)">82</text></g>
<g id="b53"><g transform="rotate(133.1) translate(342) rotate(-133.1)"><circle class="ga" r="39"/><circle class="s" r="19.5" style="stroke:#ff0000;stroke-width:39;stroke-dasharray:54.5 999" transform="rotate(200)"/><circle class="s" r="19.5" style="stroke:#ff00ff;stroke-width:39;stroke-dasharray:32.3 999"/><circle class="ol" r="39"/></g><text class="b" x="-280" y="296">53</text></g>
<g id="b52"><g transform="rotate(142.1) translate(342) rotate(-142.1)"><circle class="ga" r="8"/><circle class="s" r="4" style="stroke:#ff00ff;stroke-width:8;stroke-dasharray:5.58 99" transform="rotate(20)"/><circle class="ol" r="8"/></g><text class="b" x="-295" y="233">52</text></g>
<g id="b51"><g transform="rotate(145.9) translate(342) rotate(-145.9)"><circle class="ga" r="8"/><circle class="s" r="4" style="stroke:#ff0000;stroke-width:8;stroke-dasharray:6.98 99" transform="rotate(290)"/><circle class="s" r="4" style="stroke:#ff00ff;stroke-width:8;stroke-dasharray:5.58 99" transform="rotate(30)"/><circle class="ol" r="8"/></g><text class="b" x="-308" y="206">51</text></g>
<g id="b54"><circle class="gb" r="7" transform="rotate(149.2) translate(342)"/><text class="n" transform="rotate(149.2) translate(359) rotate(-149.2)">54</text></g>
<g id="b55"><circle class="gb" r="7" transform="rotate(152.2) translate(342)"/><text class="n" transform="rotate(152.2) translate(359) rotate(-152.2)">55</text></g>
<g id="b56"><circle class="gb" r="7" transform="rotate(155.2) translate(342)"/><text class="n" transform="rotate(155.2) translate(359) rotate(-155.2)">56</text></g>
<g id="b11"><circle class="gb" r="7" transform="rotate(158.3) translate(342)"/><text class="n" transform="rotate(158.3) translate(359) rotate(-158.3)">11</text></g>
<g id="b57"><circle class="gc" r="7" transform="rotate(161.2) translate(342)"/><text class="n" transform="rotate(161.2) translate(359) rotate(-161.2)">57</text></g>
<g id="b46"><circle class="ga" r="7" transform="rotate(164.4) translate(342)"/><text class="n" transform="rotate(164.4) translate(359) rotate(-164.4)">46</text></g>
<g id="b45"><g transform="rotate(170.2) translate(342) rotate(-170.2)"><circle class="ga" r="24"/><circle class="s" r="12" style="stroke:#ff0000;stroke-width:24;stroke-dasharray:3.14 999" transform="rotate(5)"/><circle class="ol" r="24"/></g><text class="b" x="-383" y="53">45</text></g>
<g id="b35"><circle class="ga" r="8" transform="rotate(176.1) translate(342)"/><text class="b rd" x="-366" y="20">35</text></g>
<g id="b47"><circle class="ga" r="8" transform="rotate(179.3) translate(342)"/><text class="n" transform="rotate(179.3) translate(361) rotate(-179.3)">47</text></g>
<g id="b48"><circle class="ga" r="8" transform="rotate(182.5) translate(342)"/><text class="n" transform="rotate(182.5) translate(361) rotate(-182.5)">48</text></g>
<g id="b49"><circle class="ga" r="8" transform="rotate(185.5) translate(342)"/><text class="n" transform="rotate(185.5) translate(361) rotate(-185.5)">49</text></g>
<g id="b50"><circle class="ga" r="8" transform="rotate(188.6) translate(342)"/><text class="n" transform="rotate(188.6) translate(361) rotate(-188.6)">50</text></g>
<g id="b43"><circle class="ga" r="7" transform="rotate(191.3) translate(342)"/><text class="n" transform="rotate(191.3) translate(360) rotate(-191.3)">43</text></g>
<g id="b41"><circle class="ga" r="8" transform="rotate(194.8) translate(342)"/><text class="b rd" x="-354" y="-97">41</text></g>
<g id="b38"><g transform="rotate(200.1) translate(342) rotate(-200.1)"><circle class="ga" r="17"/><circle class="s" r="8.5" style="stroke:#ff00ff;stroke-width:17;stroke-dasharray:1.48 999"/><circle class="s" r="8.5" style="stroke:#7a1a7a;stroke-width:17;stroke-dasharray:1.19 999" transform="rotate(10)"/><circle class="s" r="8.5" style="stroke:#ff0000;stroke-width:17;stroke-dasharray:2.08 999" transform="rotate(18)"/><circle class="ol" r="17"/></g><text class="b rd" x="-354" y="-135">38</text></g>
<g id="b37"><g transform="rotate(205.2) translate(342) rotate(-205.2)"><circle class="ga" r="8"/><circle class="s" r="4" style="stroke:#ff0000;stroke-width:8;stroke-dasharray:12.57 99" transform="rotate(180)"/><circle class="ol" r="8"/></g><text class="n" transform="rotate(205.2) translate(359) rotate(-205.2)">37</text></g>
<g id="b39"><circle class="gc" r="7" transform="rotate(208.4) translate(342)"/><text class="n" transform="rotate(208.4) translate(358) rotate(-208.4)">39</text></g>
<g id="b40"><circle class="gc" r="7" transform="rotate(211.5) translate(342)"/><text class="n" transform="rotate(211.5) translate(358) rotate(-211.5)">40</text></g>
<g id="b36"><circle class="gc" r="10" transform="rotate(215) translate(342)"/><text class="n" transform="rotate(215) translate(361) rotate(-215)">36</text></g>
<g id="b42"><circle class="ga" r="15" transform="rotate(220.1) translate(342)"/><text class="b" x="-290" y="-242">42</text></g>
<g id="b34"><circle class="ga" r="10" transform="rotate(224.9) translate(342)"/><text class="n" transform="rotate(224.9) translate(361) rotate(-224.9)">34</text></g>
<g id="b44"><circle class="ga" r="7" transform="rotate(228.2) translate(342)"/><text class="n" transform="rotate(228.2) translate(358) rotate(-228.2)">44</text></g>
<g id="b63"><circle class="gc" r="7" transform="rotate(231.2) translate(342)"/><text class="n" transform="rotate(231.2) translate(358) rotate(-231.2)">63</text></g>
<g id="b62"><circle class="gc" r="10" transform="rotate(235.1) translate(342)"/><text class="n" transform="rotate(235.1) translate(361) rotate(-235.1)">62</text></g>
<g id="b64"><circle class="gc" r="7" transform="rotate(238.5) translate(342)"/><text class="n" transform="rotate(238.5) translate(358) rotate(-238.5)">64</text></g>
<g id="b61"><circle class="gc" r="15" transform="rotate(242.8) translate(342)"/><text class="b" x="-179" y="-330">61</text></g>
<g id="b65"><circle class="gc" r="7" transform="rotate(247.3) translate(342)"/><text class="n" transform="rotate(247.3) translate(358) rotate(-247.3)">65</text></g>
<g id="b60"><circle class="ga" r="9" transform="rotate(250.6) translate(342)"/><text class="n" transform="rotate(250.6) translate(360) rotate(-250.6)">60</text></g>
<g id="b66"><circle class="ga" r="7" transform="rotate(254) translate(342)"/><text class="b rd" x="-101" y="-349">66</text></g>
<g id="b59"><circle class="ga" r="8" transform="rotate(257.4) translate(342)"/><text class="b rd" x="-80" y="-353">59</text></g>
<g id="b58"><circle class="ga" r="9" transform="rotate(260.7) translate(342)"/><text class="n" transform="rotate(260.7) translate(360) rotate(-260.7)">58</text></g>
<g id="b26"><circle class="gc" r="9" transform="rotate(264.5) translate(342)"/><text class="n" transform="rotate(264.5) translate(360) rotate(-264.5)">26</text></g>
<g id="b25"><circle class="gc" r="14" transform="rotate(269.3) translate(342)"/><text class="b" x="-3" y="-372">25</text></g>
<g id="b24"><circle class="gc" r="9" transform="rotate(273.9) translate(342)"/><text class="n" transform="rotate(273.9) translate(360) rotate(-273.9)">24</text></g>
<g id="b27"><circle class="gc" r="7" transform="rotate(277.3) translate(342)"/><text class="n" transform="rotate(277.3) translate(358) rotate(-277.3)">27</text></g>
<g id="b28"><circle class="gc" r="7" transform="rotate(280.4) translate(342)"/><text class="n" transform="rotate(280.4) translate(358) rotate(-280.4)">28</text></g>
<g id="b29"><circle class="gc" r="7" transform="rotate(283.4) translate(342)"/><text class="n" transform="rotate(283.4) translate(358) rotate(-283.4)">29</text></g>
<g id="b30"><circle class="gc" r="8" transform="rotate(286.6) translate(342)"/><text class="n" transform="rotate(286.6) translate(359) rotate(-286.6)">30</text></g>
<g id="b33"><circle class="gd" r="8" transform="rotate(289.9) translate(342)"/><text class="n" transform="rotate(289.9) translate(359) rotate(-289.9)">33</text></g>
<g id="b31"><circle class="gd" r="8" transform="rotate(293.5) translate(342)"/><text class="n" transform="rotate(293.5) translate(359) rotate(-293.5)">31</text></g>
<g id="b32"><circle class="gd" r="9" transform="rotate(297.1) translate(342)"/><text class="n" transform="rotate(297.1) translate(360) rotate(-297.1)">32</text></g>
<g id="b93"><circle class="gc" r="8" transform="rotate(301) translate(342)"/><text class="b rd" x="194" y="-319">93</text></g>
<g id="b91"><circle class="gc" r="8" transform="rotate(304.6) translate(342)"/><text class="n" transform="rotate(304.6) translate(359) rotate(-304.6)">91</text></g>
<g id="b90"><circle class="gc" r="10" transform="rotate(308.7) translate(342)"/><text class="n" transform="rotate(308.7) translate(361) rotate(-308.7)">90</text></g>
<g id="b89"><circle class="gc" r="7" transform="rotate(312.3) translate(342)"/><text class="n" transform="rotate(312.3) translate(358) rotate(-312.3)">89</text></g>
<g id="b92"><circle class="gc" r="9" transform="rotate(315.6) translate(342)"/><text class="n" transform="rotate(315.6) translate(360) rotate(-315.6)">92</text></g>
<g id="b88"><circle class="gc" r="8" transform="rotate(319.1) translate(342)"/><text class="n" transform="rotate(319.1) translate(359) rotate(-319.1)">88</text></g>
<g id="b85"><circle class="gc" r="15" transform="rotate(323.6) translate(342)"/><text class="b" x="300" y="-229">85</text></g>
<g id="b84"><circle class="gc" r="9" transform="rotate(328) translate(342)"/><text class="n" transform="rotate(328) translate(361) rotate(-328)">84</text></g>
<g id="b83"><circle class="gc" r="9" transform="rotate(331.6) translate(342)"/><text class="n" transform="rotate(331.6) translate(361) rotate(-331.6)">83</text></g>
<g id="b87"><circle class="gc" r="8" transform="rotate(335.2) translate(342)"/><text class="n" transform="rotate(335.2) translate(360) rotate(-335.2)">87</text></g>
<g id="b86"><circle class="gc" r="10" transform="rotate(338.9) translate(342)"/><text class="n" transform="rotate(338.9) translate(362) rotate(-338.9)">86</text></g>
<g id="b94"><circle class="gc" r="7" transform="rotate(342.4) translate(342)"/><text class="n" transform="rotate(342.4) translate(359) rotate(-342.4)">94</text></g>
</g>
</svg>
